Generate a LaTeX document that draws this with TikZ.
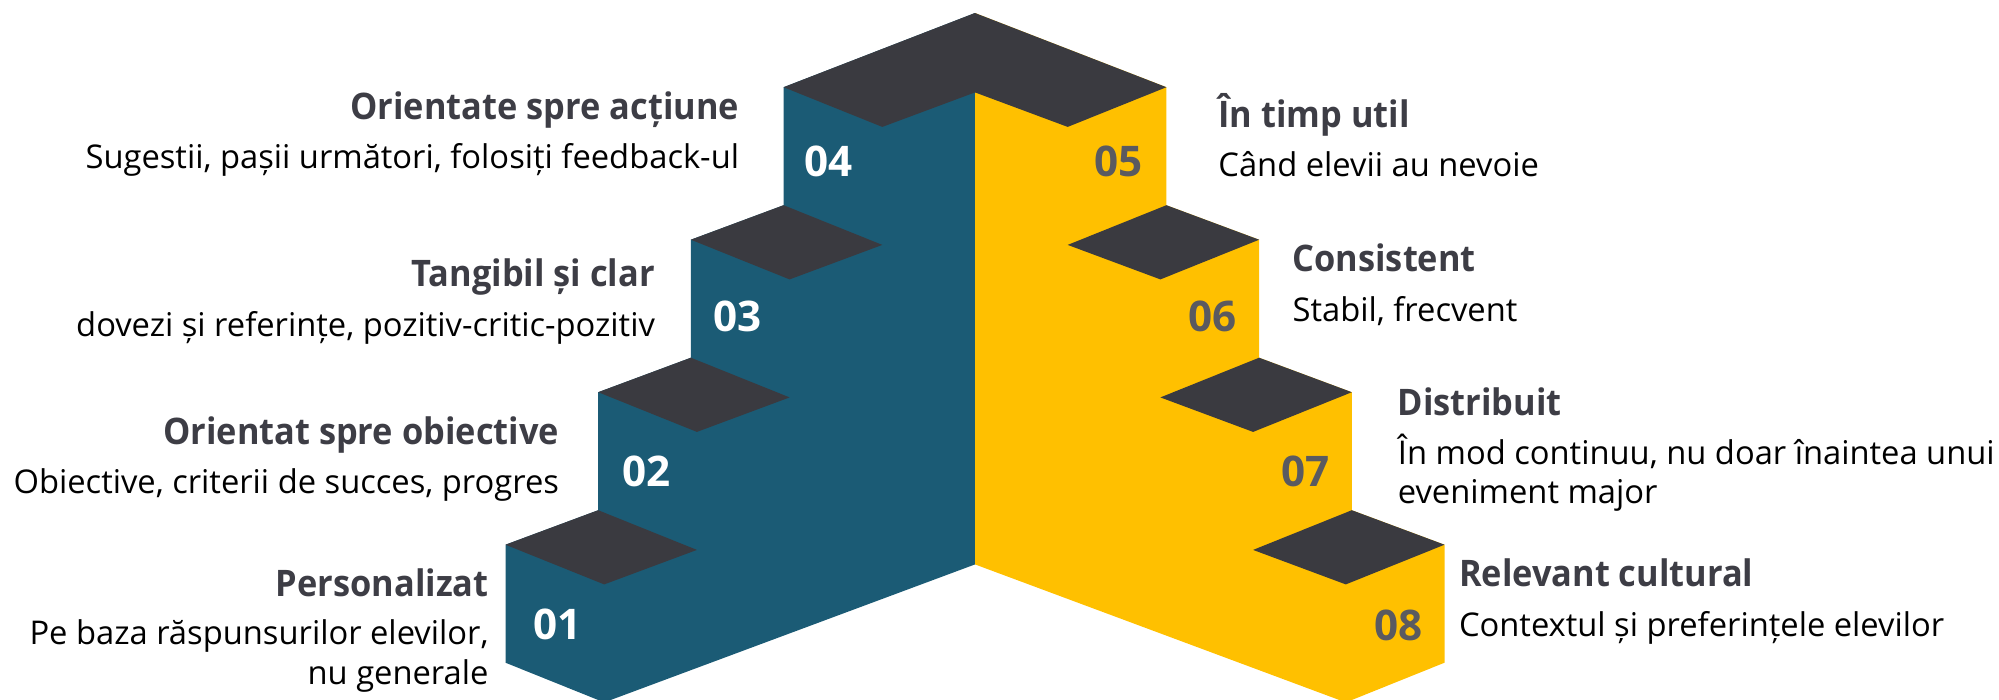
\documentclass[tikz,border=0pt]{standalone}
\usepackage{fontspec}
\setmainfont{Open Sans}
\newfontfamily\titlefont{Open Sans}[FakeStretch=0.94]
\usepackage{tikz}
\definecolor{stepteal}{HTML}{1B5B75}
\definecolor{stepgold}{HTML}{FFC000}
\definecolor{stepdark}{HTML}{3A3A40}
\definecolor{titlegray}{HTML}{3D3D45}
\definecolor{numgray}{HTML}{5A5A60}

\begin{document}
\begin{tikzpicture}[x=0.01cm,y=-0.01cm,
  title/.style={inner sep=0pt,font=\titlefont\fontsize{10.4}{12}\selectfont\bfseries,text=titlegray},
  desc/.style={inner sep=0pt,font=\fontsize{9.3}{11.1}\selectfont,text=black},
  num/.style={inner sep=0pt,font=\fontsize{12}{14}\selectfont\bfseries},
  top/.style={fill=stepdark}]
\useasboundingbox (0,0) rectangle (1999,699);
% corner points of the steps (left half, right half is mirrored)
\coordinate (s1a) at (505.5,544.7); \coordinate (s1b) at (598.2,510.2);
\coordinate (s1c) at (696.9,549.9); \coordinate (s1d) at (604.2,584.4);
\coordinate (s2a) at (598.2,392.2); \coordinate (s2b) at (690.9,357.7);
\coordinate (s2c) at (789.6,397.4); \coordinate (s2d) at (696.9,431.9);
\coordinate (s3a) at (690.9,239.7); \coordinate (s3b) at (783.6,205.2);
\coordinate (s3c) at (882.3,244.9); \coordinate (s3d) at (789.6,279.4);
\coordinate (s4a) at (783.6,87.2);  \coordinate (s4d) at (882.3,126.9);
\coordinate (s8a) at (1444.5,544.7); \coordinate (s8b) at (1351.8,510.2);
\coordinate (s8c) at (1253.1,549.9); \coordinate (s8d) at (1345.8,584.4);
\coordinate (s7a) at (1351.8,392.2); \coordinate (s7b) at (1259.1,357.7);
\coordinate (s7c) at (1160.4,397.4); \coordinate (s7d) at (1253.1,431.9);
\coordinate (s6a) at (1259.1,239.7); \coordinate (s6b) at (1166.4,205.2);
\coordinate (s6c) at (1067.7,244.9); \coordinate (s6d) at (1160.4,279.4);
\coordinate (s5a) at (1166.4,87.2);  \coordinate (s5d) at (1067.7,126.9);
\coordinate (apex) at (975,13); \coordinate (notch) at (975,92.4);
\coordinate (mid) at (975,564.4);
\coordinate (lfoot) at (505.5,662.7); \coordinate (lbot) at (604.2,702.4);
\coordinate (rfoot) at (1444.5,662.7); \coordinate (rbot) at (1345.8,702.4);

% stairs
\fill[stepteal] (lfoot) -- (s1a) -- (s1b) -- (s2a) -- (s2b) -- (s3a) -- (s3b) -- (s4a) -- (apex) -- (mid) -- (lbot) -- cycle;
\fill[stepgold] (rfoot) -- (s8a) -- (s8b) -- (s7a) -- (s7b) -- (s6a) -- (s6b) -- (s5a) -- (apex) -- (mid) -- (rbot) -- cycle;
\fill[top] (s1a) -- (s1b) -- (s1c) -- (s1d) -- cycle;
\fill[top] (s2a) -- (s2b) -- (s2c) -- (s2d) -- cycle;
\fill[top] (s3a) -- (s3b) -- (s3c) -- (s3d) -- cycle;
\fill[top] (s8a) -- (s8b) -- (s8c) -- (s8d) -- cycle;
\fill[top] (s7a) -- (s7b) -- (s7c) -- (s7d) -- cycle;
\fill[top] (s6a) -- (s6b) -- (s6c) -- (s6d) -- cycle;
\fill[top] (s4a) -- (apex) -- (s5a) -- (s5d) -- (notch) -- (s4d) -- cycle;

% step numbers
\node[num,text=white,anchor=base west] (n01) at (533,639.3) {01};
\node[num,text=white,anchor=base west] (n02) at (622,486.7) {02};
\node[num,text=white,anchor=base west] (n03) at (712.5,331.7) {03};
\node[num,text=white,anchor=base west] (n04) at (803.5,176.7) {04};
\node[num,text=numgray,anchor=base east] (n05) at (1143,176.7) {05};
\node[num,text=numgray,anchor=base east] (n06) at (1237,331.7) {06};
\node[num,text=numgray,anchor=base east] (n07) at (1330,486.7) {07};
\node[num,text=numgray,anchor=base east] (n08) at (1423,640) {08};

% labels left
\node[title,anchor=base east] (t04) at (739.8,119.3) {Orientate spre acțiune};
\node[desc,anchor=base east] (d04) at (739.8,168.3) {Sugestii, pașii următori, folosiți feedback-ul};
\node[title,anchor=base east] (t03) at (655.6,286.7) {Tangibil și clar};
\node[desc,anchor=base east] (d03) at (655.6,336.7) {dovezi și referințe, pozitiv-critic-pozitiv};
\node[title,anchor=base east] (t02) at (559.7,444) {Orientat spre obiective};
\node[desc,anchor=base east] (d02) at (559.7,493.3) {Obiective, criterii de succes, progres};
\node[title,anchor=base east] (t01) at (489.2,596.7) {Personalizat};
\node[desc,anchor=base east,align=right] (d01) at (489.2,684) {Pe baza răspunsurilor elevilor,\\nu generale};

% labels right
\node[title,anchor=base west] (t05) at (1217.7,127.3) {În timp util};
\node[desc,anchor=base west] (d05) at (1217.7,176.7) {Când elevii au nevoie};
\node[title,anchor=base west] (t06) at (1291.9,271.7) {Consistent};
\node[desc,anchor=base west] (d06) at (1291.9,321.7) {Stabil, frecvent};
\node[title,anchor=base west] (t07) at (1397.2,415) {Distribuit};
\node[desc,anchor=base west,align=left] (d07) at (1397.2,503.3) {În mod continuu, nu doar înaintea unui\\eveniment major};
\node[title,anchor=base west] (t08) at (1458.3,586) {Relevant cultural};
\node[desc,anchor=base west] (d08) at (1458.3,636.7) {Contextul și preferințele elevilor};
\end{tikzpicture}
\end{document}
